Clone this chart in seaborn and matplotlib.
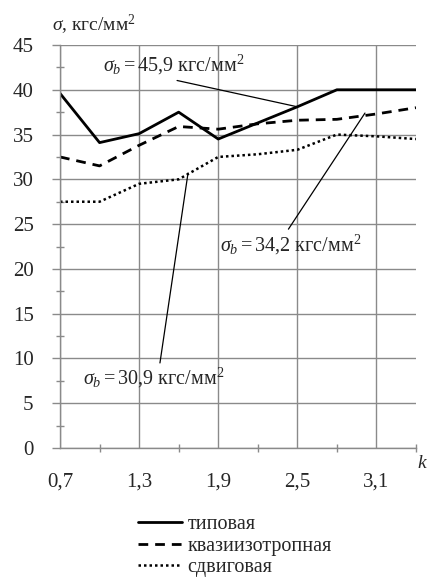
import matplotlib
matplotlib.use("Agg")
import matplotlib.pyplot as plt
import seaborn as sns
import pandas as pd
import numpy as np
from matplotlib.lines import Line2D
from matplotlib.ticker import MultipleLocator, FixedLocator

k = [0.7, 1.0, 1.3, 1.6, 1.9, 2.2, 2.5, 2.8, 3.1, 3.4]
tipovaya = [39.6, 34.1, 35.1, 37.5, 34.5, 36.3, 38.1, 40.0, 40.0, 40.0]
kvazi = [32.5, 31.5, 33.8, 35.9, 35.6, 36.2, 36.6, 36.7, 37.3, 38.0]
sdvig = [27.5, 27.5, 29.5, 30.0, 32.5, 32.8, 33.3, 35.0, 34.8, 34.5]
series_names = ["типовая", "квазиизотропная", "сдвиговая"]
xtick_labels = ["0,7", "1,3", "1,9", "2,5", "3,1"]
xticks = [0.7, 1.3, 1.9, 2.5, 3.1]

sns.set_theme(style="white")
plt.rcParams['font.family'] = ['Liberation Serif', 'DejaVu Serif']
plt.rcParams['mathtext.fontset'] = 'custom'
plt.rcParams['mathtext.rm'] = 'Liberation Serif'
plt.rcParams['mathtext.it'] = 'Liberation Serif:italic'

df = pd.DataFrame({
    "k": k * 3,
    "sigma": tipovaya + kvazi + sdvig,
    "series": [series_names[0]] * len(k) + [series_names[1]] * len(k) + [series_names[2]] * len(k),
})

fig = plt.figure(figsize=(4.28, 5.78), dpi=100)
ax = fig.add_axes([60/428, 1 - 448/578, (416-60)/428, (448-45)/578])

styles = {
    series_names[0]: dict(linestyle="-", linewidth=2.0),
    series_names[1]: dict(linestyle=(0, (3.5, 2.5)), linewidth=2.0),
    series_names[2]: dict(linestyle=(0, (1, 1.2)), linewidth=1.8),
}
for name in series_names:
    sub = df[df["series"] == name]
    sns.lineplot(data=sub, x="k", y="sigma", ax=ax, color="black", legend=False,
                 **styles[name])

ax.set_xlim(0.7, 3.4)
ax.set_ylim(0, 45)
ax.set_xlabel("")
ax.set_ylabel("")
ax.xaxis.set_major_locator(FixedLocator(xticks))
ax.set_xticklabels(xtick_labels)
ax.xaxis.set_minor_locator(FixedLocator([1.0, 1.6, 2.2, 2.8, 3.4]))
ax.yaxis.set_major_locator(MultipleLocator(5))
ax.yaxis.set_minor_locator(MultipleLocator(2.5))

gc = "#8a8a8a"
ax.grid(True, which="major", color=gc, linewidth=1.0)
ax.set_axisbelow(True)
for s in ["top", "right"]:
    ax.spines[s].set_visible(False)
for s in ["left", "bottom"]:
    ax.spines[s].set_color(gc)
    ax.spines[s].set_linewidth(1.0)

ax.tick_params(axis="y", which="major", direction="out", length=6, width=1, color=gc,
               labelsize=15, pad=13, left=True)
ax.tick_params(axis="y", which="minor", direction="inout", length=6, width=1, color=gc, left=True)
ax.tick_params(axis="x", which="both", direction="inout", length=6, width=1, color=gc,
               labelsize=15, pad=18, bottom=True)
ax.tick_params(axis="x", which="major", length=0)

# annotations
fs = 14.5
ax.annotate(r"$\sigma_b=45{,}9$ кгс/мм$^2$", xy=(2.5, 38.1), xytext=(0.12, 0.95),
            textcoords="axes fraction",
            fontsize=fs, ha="left", va="center",
            arrowprops=dict(arrowstyle="-", color="black", lw=0.9, shrinkA=0, shrinkB=0,
                            relpos=(0.42, 0.0)))
ax.annotate(r"$\sigma_b=34{,}2$ кгс/мм$^2$", xy=(3.013, 37.4), xytext=(0.449, 0.505),
            textcoords="axes fraction",
            fontsize=fs, ha="left", va="center",
            arrowprops=dict(arrowstyle="-", color="black", lw=0.9, shrinkA=0, shrinkB=0,
                            relpos=(0.47, 1.0)))
ax.annotate(r"$\sigma_b=30{,}9$ кгс/мм$^2$", xy=(1.671, 30.7), xytext=(0.065, 0.173),
            textcoords="axes fraction",
            fontsize=fs, ha="left", va="center",
            arrowprops=dict(arrowstyle="-", color="black", lw=0.9, shrinkA=0, shrinkB=0,
                            relpos=(0.54, 1.0)))

fig.text(52/428, 1 - 25/578, r"$\sigma$, кгс/мм$^2$", fontsize=14, ha="left", va="center")
fig.text(417/428, 1 - 464/578, r"$k$", fontsize=14, ha="left", va="center")

handles = [Line2D([0], [0], color="black", **styles[n]) for n in series_names]
fig.legend(handles, series_names, loc="center left", bbox_to_anchor=(138/428, 1 - 546/578),
           frameon=False, fontsize=14.5, handlelength=2.2, handletextpad=0.25,
           labelspacing=0.12, borderpad=0, borderaxespad=0)

fig.savefig("out.png", dpi=100)
